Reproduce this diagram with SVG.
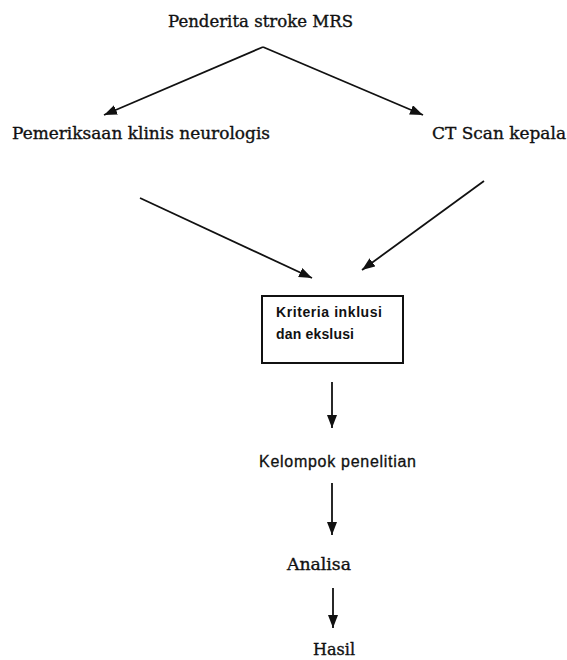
<svg xmlns="http://www.w3.org/2000/svg" width="567" height="660" viewBox="0 0 567 660">
  <style>
    .serif { font-family: "DejaVu Serif", "Liberation Serif", serif; font-size: 16px; fill: #111; stroke: #111; stroke-width: 0.35; }
    .sans { font-family: "Liberation Sans", Arial, sans-serif; fill: #111; }
    .edge { stroke: #111; stroke-width: 1.8; fill: none; marker-end: url(#arrow); }
    .box { fill: #fff; stroke: #111; stroke-width: 2; }
  </style>
  <defs>
    <marker id="arrow" markerUnits="userSpaceOnUse" markerWidth="14" markerHeight="12" refX="13" refY="5" orient="auto">
      <path d="M0,0 L13,5 L0,10 Z" fill="#111"/>
    </marker>
  </defs>
  <rect width="567" height="660" fill="#fff"/>

  <g id="connectors">
    <line class="edge" x1="263" y1="47" x2="104" y2="115"/>
    <line class="edge" x1="263" y1="47" x2="423" y2="115"/>
    <line class="edge" x1="140" y1="198" x2="312" y2="278"/>
    <line class="edge" x1="484" y1="181" x2="362" y2="270"/>
    <line class="edge" x1="332" y1="382" x2="332" y2="428"/>
    <line class="edge" x1="332" y1="483" x2="332" y2="535"/>
    <line class="edge" x1="333" y1="588" x2="333" y2="628"/>
  </g>

  <g id="node-penderita">
    <text class="serif" x="168" y="27" textLength="185" lengthAdjust="spacingAndGlyphs">Penderita stroke MRS</text>
  </g>
  <g id="node-pemeriksaan">
    <text class="serif" x="12" y="139" textLength="258" lengthAdjust="spacingAndGlyphs">Pemeriksaan klinis neurologis</text>
  </g>
  <g id="node-ctscan">
    <text class="serif" x="432" y="139" textLength="134" lengthAdjust="spacingAndGlyphs">CT Scan kepala</text>
  </g>
  <g id="node-kriteria">
    <rect class="box" x="262" y="296" width="141" height="67"/>
    <text class="sans" font-size="14" font-weight="bold" x="276" y="317" textLength="106">Kriteria inklusi</text>
    <text class="sans" font-size="14" font-weight="bold" x="276" y="339" textLength="78">dan ekslusi</text>
  </g>
  <g id="node-kelompok">
    <text class="sans" font-size="16" x="259" y="467" textLength="157" stroke="#111" stroke-width="0.3">Kelompok penelitian</text>
  </g>
  <g id="node-analisa">
    <text class="serif" x="287" y="570" textLength="64" lengthAdjust="spacingAndGlyphs">Analisa</text>
  </g>
  <g id="node-hasil">
    <text class="serif" x="313" y="655" textLength="42" lengthAdjust="spacingAndGlyphs">Hasil</text>
  </g>
</svg>
